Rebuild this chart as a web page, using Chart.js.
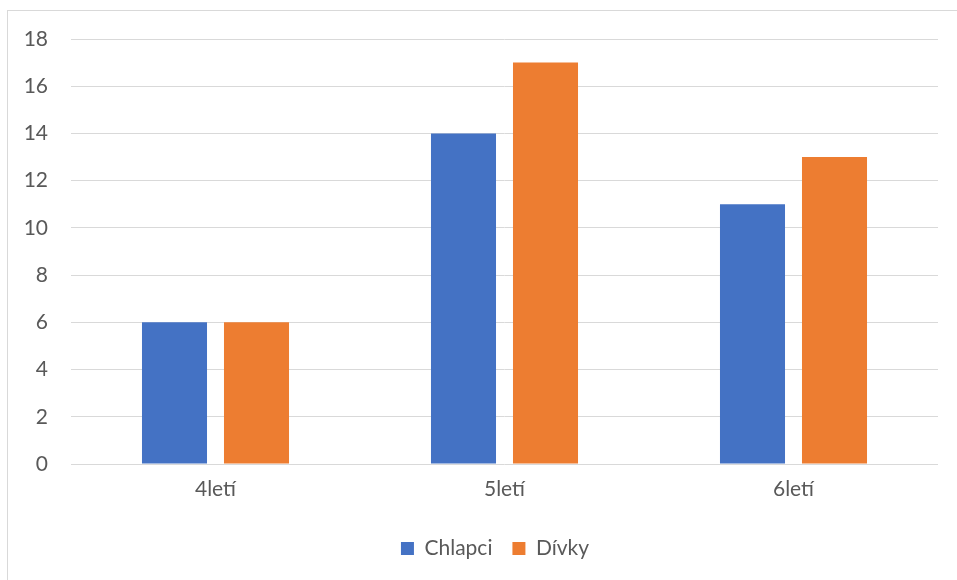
<!DOCTYPE html>
<html>
<head>
<meta charset="utf-8">
<script src="https://cdn.jsdelivr.net/npm/chart.js@4"></script>
<style>
  html, body { margin: 0; padding: 0; background: #fff; }
  #wrap { position: relative; width: 957px; height: 580px; overflow: hidden; }
  #frame { position: absolute; left: 7px; top: 10px; width: 1000px; height: 700px;
           border-left: 1px solid #d9d9d9; border-top: 1px solid #d9d9d9; box-sizing: border-box; }
  canvas { position: absolute; left: 0; top: 0; }
</style>
</head>
<body>
<div id="wrap">
  <div id="frame"></div>
  <canvas id="c" width="957" height="580"></canvas>
</div>
<script>
const categories = ['4letí', '5letí', '6letí'];
const chlapci = [6, 14, 11];
const divky = [6, 17, 13];
const yTicks = [0, 2, 4, 6, 8, 10, 12, 14, 16, 18];

const textColor = '#595959';
const fontFamily = 'Lato, "Open Sans", sans-serif';
const fontSize = 21;

// Nudge the bottom legend a little to the right of the canvas centre.
const legendShift = {
  id: 'legendShift',
  afterUpdate(chart) {
    const lg = chart.legend;
    if (!lg) return;
    lg.left += 26;
    lg.right += 26;
    lg.adjustHitBoxes();
  }
};

new Chart(document.getElementById('c'), {
  type: 'bar',
  data: {
    labels: categories,
    datasets: [
      { label: 'Chlapci', data: chlapci, backgroundColor: '#4472C4' },
      { label: 'Dívky', data: divky, backgroundColor: '#ED7D31' }
    ]
  },
  plugins: [legendShift],
  options: {
    responsive: false,
    animation: false,
    devicePixelRatio: 1,
    categoryPercentage: 0.5675,
    barPercentage: 0.793,
    layout: { padding: { left: 0, right: 19, top: 39, bottom: 11 } },
    scales: {
      x: {
        grid: { display: false, drawTicks: false },
        border: { display: false },
        ticks: { color: textColor, font: { family: fontFamily, size: fontSize }, padding: 13 },
        afterFit: (s) => { s.height = 54; }
      },
      y: {
        min: 0, max: 18,
        afterBuildTicks: (s) => { s.ticks = yTicks.map(v => ({ value: v })); },
        grid: { color: '#d9d9d9', drawTicks: false, lineWidth: 1 },
        border: { display: false },
        ticks: { color: textColor, font: { family: fontFamily, size: fontSize }, padding: 23 },
        afterFit: (s) => { s.width = 71; }
      }
    },
    plugins: {
      legend: {
        position: 'bottom',
        labels: {
          color: textColor,
          font: { family: fontFamily, size: fontSize },
          boxWidth: 13, boxHeight: 13,
          padding: 20
        }
      },
      tooltip: { enabled: false }
    }
  }
});
</script>
</body>
</html>
